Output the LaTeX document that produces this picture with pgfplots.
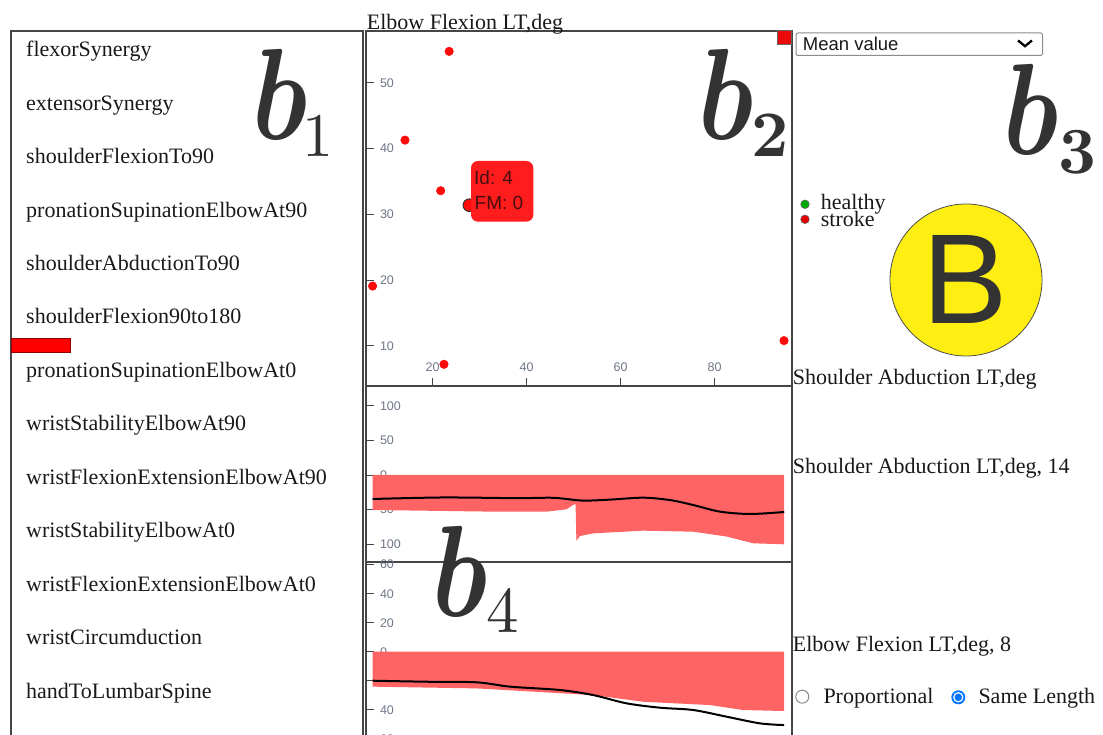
\documentclass[border=0pt]{standalone}
\usepackage[no-math]{fontspec}
\setmainfont{Liberation Serif}
\newfontfamily\arialf{Liberation Sans}
\usepackage{graphicx}
\usepackage{pgfplots}
\pgfplotsset{compat=1.18}
\definecolor{axgray}{RGB}{70,70,70}
\definecolor{tickgray}{RGB}{110,118,135}
\definecolor{bandred}{RGB}{255,100,100}
\definecolor{ptred}{RGB}{255,10,10}
\definecolor{tipred}{RGB}{255,28,28}
\definecolor{tiptext}{RGB}{70,15,15}
\definecolor{bigtxt}{RGB}{51,51,51}
\definecolor{byellow}{RGB}{255,238,18}
\definecolor{radioblue}{RGB}{0,117,255}
\definecolor{hgreen}{RGB}{0,170,0}
\definecolor{txt}{RGB}{25,25,25}

\pgfplotsset{
  panel/.style={
    scale only axis,
    anchor=north west,
    axis line style={draw=axgray, line width=1.3pt},
    tick align=inside,
    major tick length=8pt,
    tick style={draw=axgray, line width=0.9pt},
    /pgf/number format/assume math mode=true,
    ticklabel style={font=\arialf\fontsize{12.5}{13}\selectfont, text=tickgray},
    yticklabel style={anchor=west, xshift=10.5pt},
    ytick pos=left,
  }
}

\newcommand{\lbl}{\fontsize{22}{22}\selectfont}
\newcommand{\bigb}{\scalebox{10.6}[13]{\boldmath$b$}}

\begin{document}
\begin{tikzpicture}
\path[use as bounding box] (0pt,0pt) rectangle (1103pt,735pt);

% ---------- left list panel ----------
\begin{axis}[
  at={(11pt,704pt)}, anchor=north west, scale only axis,
  width=352pt, height=760pt,
  xmin=0, xmax=352, ymin=0, ymax=760, y dir=reverse,
  axis line style={draw=axgray, line width=1.3pt},
  xtick=\empty, ytick=\empty,
]
\addplot[fill=red, draw=red!55!black, line width=0.8pt] coordinates {(0,307) (59,307) (59,321) (0,321)} -- cycle;
\end{axis}

% ---------- scatter panel ----------
\begin{axis}[panel,
  at={(366pt,704pt)},
  width=426pt, height=355pt,
  xmin=5.8, xmax=96.5, ymin=3.9, ymax=57.9,
  xtick={20,40,60,80}, ytick={10,20,30,40,50},
  xtick pos=bottom,
  xticklabel style={anchor=south, yshift=11pt},
]
\addplot[only marks, mark=*, mark size=4.3pt, color=ptred]
  coordinates {(23.5,54.8) (14.1,41.3) (21.7,33.6) (7.2,19.1) (22.4,7.2) (94.8,10.8)};
\addplot[only marks, mark=*, mark size=6.3pt, mark options={draw=black!80, fill=ptred, line width=1pt}]
  coordinates {(27.8,31.4)};
\end{axis}

% ---------- middle band panel ----------
\begin{axis}[panel,
  at={(366pt,349pt)},
  width=426pt, height=176pt,
  xmin=-1.63, xmax=101.9, ymin=-125.8, ymax=128.7,
  xtick=\empty,
  ytick={-100,-50,0,50,100}, yticklabels={100,50,0,50,100},
]
\addplot[fill=bandred, draw=none] coordinates {
  (0,0) (100,0) (100,-100.2) (92.5,-98.8) (86,-89) (77.9,-82) (65.7,-80.5)
  (53.6,-84.4) (50.4,-88.2) (49.5,-95) (49.3,-42) (48.7,-43.4) (47.1,-49.6)
  (42.3,-53) (29.3,-53) (0,-50.6)} -- cycle;
\addplot[black, line width=2pt, smooth] coordinates {
  (0,-34.7) (17.2,-32.5) (35,-33.5) (44,-33) (51,-37) (58,-35.5)
  (65.7,-32.8) (72.2,-36.2) (77.9,-43.4) (84.4,-53) (91.7,-56.4) (100,-53.5)};
\end{axis}

% ---------- bottom band panel ----------
\begin{axis}[panel,
  at={(366pt,173pt)},
  width=426pt, height=208pt,
  xmin=-1.63, xmax=101.9, ymin=-81.55, ymax=61.86,
  xtick=\empty,
  ytick={-60,-40,-20,0,20,40,60}, yticklabels={60,40,20,0,20,40,60},
]
\addplot[fill=bandred, draw=none] coordinates {
  (0,0) (100,0) (100,-40.9) (90,-40.2) (82,-36.8) (65.7,-34.5) (53.6,-29.9)
  (25.3,-25.3) (0,-24.1)} -- cycle;
\addplot[black, line width=2pt, smooth] coordinates {
  (0,-20) (13.1,-20.7) (25.3,-21.1) (33.4,-24.1) (45.5,-26.4) (53.6,-29.9)
  (61.7,-35.6) (69.8,-38.6) (77.9,-40.2) (86,-44.8) (94.1,-49.4) (100,-50.6)};
\end{axis}

% ---------- UI elements (image pixel coordinates, y downwards) ----------
\begin{scope}[x=1pt, y=-1pt, shift={(0pt,735pt)}]
  % left list labels
  \foreach \t [count=\i from 0] in {flexorSynergy, extensorSynergy, shoulderFlexionTo90,
      pronationSupinationElbowAt90, shoulderAbductionTo90, shoulderFlexion90to180,
      pronationSupinationElbowAt0, wristStabilityElbowAt90, wristFlexionExtensionElbowAt90,
      wristStabilityElbowAt0, wristFlexionExtensionElbowAt0, wristCircumduction, handToLumbarSpine}{
    \node[anchor=base west, inner sep=0pt, text=txt] at (26, 56.7+53.45*\i) {\lbl \t};
  }

  % scatter title
  \node[anchor=base west, inner sep=0pt, text=txt] at (366.7,30) {\lbl Elbow Flexion LT,deg};

  % red square top-right of scatter
  \draw[fill=ptred!92!black, draw=black!60, line width=0.8pt] (777.3,30.5) rectangle (791.5,44.3);

  % tooltip
  \fill[tipred, rounded corners=7pt] (471,161) rectangle (533.3,221.7);
  \node[anchor=base west, inner sep=0pt, text=tiptext] at (474,184.3) {\arialf\fontsize{19}{19}\selectfont Id: 4};
  \node[anchor=base west, inner sep=0pt, text=tiptext] at (474.5,210) {\arialf\fontsize{19}{19}\selectfont FM: 0};

  % dropdown
  \draw[rounded corners=2pt, draw=black!45, line width=1pt, fill=white] (796,33) rectangle (1042.5,55.5);
  \node[anchor=base west, inner sep=0pt, text=txt] at (802.7,50.7) {\arialf\fontsize{18.5}{18.5}\selectfont Mean value};
  \draw[line width=2.3pt] (1018,40.5) -- (1025,46.2) -- (1032,40.5);

  % legend
  \draw[fill=hgreen, draw=black!60, line width=0.6pt] (805,204.3) circle[radius=4.3pt];
  \draw[fill=red!90!black, draw=black!60, line width=0.6pt] (805,219.3) circle[radius=4.3pt];
  \node[anchor=base west, inner sep=0pt, text=txt] at (820.7,210) {\lbl healthy};
  \node[anchor=base west, inner sep=0pt, text=txt] at (820.7,226.7) {\lbl stroke};

  % yellow B circle
  \draw[fill=byellow, draw=black!70, line width=0.8pt] (966,280) circle[radius=76pt];
  \node[text=bigtxt, inner sep=0pt] at (965,279.2) {\arialf\fontsize{128}{128}\selectfont B};

  % right-side labels
  \node[anchor=base west, inner sep=0pt, text=txt] at (792.7,385) {\lbl Shoulder Abduction LT,deg};
  \node[anchor=base west, inner sep=0pt, text=txt] at (792.7,473.3) {\lbl Shoulder Abduction LT,deg, 14};
  \node[anchor=base west, inner sep=0pt, text=txt] at (792.7,651.7) {\lbl Elbow Flexion LT,deg, 8};

  % radio buttons
  \draw[draw=black!45, fill=white, line width=1pt] (802.3,696.7) circle[radius=6.5pt];
  \node[anchor=base west, inner sep=0pt, text=txt] at (823.3,703.3) {\lbl Proportional};
  \fill[radioblue] (958.3,697.3) circle[radius=7pt];
  \fill[white] (958.3,697.3) circle[radius=5.2pt];
  \fill[radioblue] (958.3,697.3) circle[radius=3.8pt];
  \node[anchor=base west, inner sep=0pt, text=txt] at (978.3,703.3) {\lbl Same Length};

  % big annotation letters
  \node[anchor=base west, inner sep=0pt, text=bigtxt] at (252,140) {\bigb};
  \node[anchor=base west, inner sep=0pt, text=bigtxt] at (302,156.7) {\scalebox{6.2}{$1$}};
  \node[anchor=base west, inner sep=0pt, text=bigtxt] at (698,140) {\bigb};
  \node[anchor=base west, inner sep=0pt, text=bigtxt] at (751,156.7) {\scalebox{6.5}{\boldmath$2$}};
  \node[anchor=base west, inner sep=0pt, text=bigtxt] at (1003,155) {\bigb};
  \node[anchor=base west, inner sep=0pt, text=bigtxt] at (1058,173.3) {\scalebox{6.6}{\boldmath$3$}};
  \node[anchor=base west, inner sep=0pt, text=bigtxt] at (432,617) {\bigb};
  \node[anchor=base west, inner sep=0pt, text=bigtxt] at (486,633) {\scalebox{6.5}{$4$}};
\end{scope}
\end{tikzpicture}
\end{document}
